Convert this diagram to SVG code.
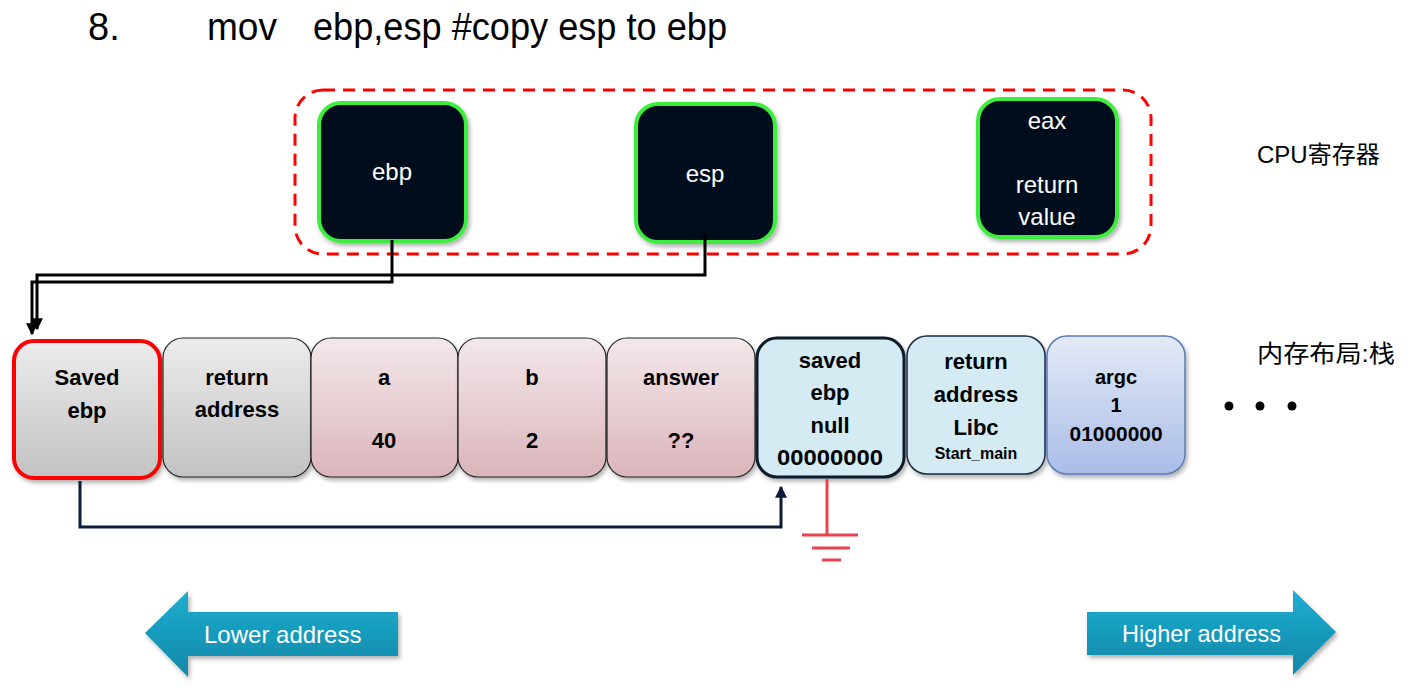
<svg xmlns="http://www.w3.org/2000/svg" width="1418" height="691" viewBox="0 0 1418 691">
<defs>
<linearGradient id="gGray" x1="0" y1="0" x2="0" y2="1"><stop offset="0" stop-color="#ececec"/><stop offset="1" stop-color="#c2c2c2"/></linearGradient>
<linearGradient id="gPink" x1="0" y1="0" x2="0" y2="1"><stop offset="0" stop-color="#f3e8ea"/><stop offset="1" stop-color="#dab5ba"/></linearGradient>
<linearGradient id="gBlue" x1="0" y1="0" x2="0" y2="1"><stop offset="0" stop-color="#e4eaf7"/><stop offset="1" stop-color="#a9bde7"/></linearGradient>
<linearGradient id="gTeal" x1="0" y1="0" x2="0" y2="1"><stop offset="0" stop-color="#1caed0"/><stop offset="1" stop-color="#1587a8"/></linearGradient>
<filter id="sh" x="-10%" y="-10%" width="130%" height="130%"><feDropShadow dx="2" dy="3" stdDeviation="2" flood-color="#000" flood-opacity="0.3"/></filter>
<marker id="arrBlack" viewBox="0 0 10 10" refX="9" refY="5" markerWidth="4" markerHeight="4" orient="auto" markerUnits="strokeWidth"><path d="M0,0 L10,5 L0,10 z" fill="#000"/></marker>
<marker id="arrNavy" viewBox="0 0 10 10" refX="9" refY="5" markerWidth="4" markerHeight="4" orient="auto" markerUnits="strokeWidth"><path d="M0,0 L10,5 L0,10 z" fill="#0d1b3a"/></marker>
</defs>
<style>
.reg{fill:#020f1a;stroke:#3ded3d;stroke-width:4}
.regt{font-family:"Liberation Sans",Arial,sans-serif;font-size:24px;fill:#fff;text-anchor:middle}
.st{font-family:"Liberation Sans",Arial,sans-serif;font-size:22px;font-weight:bold;fill:#000;text-anchor:middle}
.lbl{font-family:"Liberation Sans","Noto Sans CJK SC",sans-serif;font-size:24px;fill:#000}
.title{font-family:"Liberation Sans",Arial,sans-serif;font-size:38px;fill:#000}
.thin{stroke:#222;stroke-width:1.2}
.conn{fill:none;stroke:#000;stroke-width:3}
.arrt{font-family:"Liberation Sans",Arial,sans-serif;font-size:24px;fill:#fff}
</style>
<rect width="1418" height="691" fill="#fff"/>
<g id="title">
<text class="title" x="88" y="40">8.</text>
<text class="title" x="207" y="40" textLength="70" lengthAdjust="spacingAndGlyphs">mov</text>
<text class="title" x="313" y="40" textLength="414" lengthAdjust="spacingAndGlyphs">ebp,esp #copy esp to ebp</text>
</g>
<g id="cpu-group">
<rect x="295" y="90" width="856" height="164" rx="28" fill="none" stroke="#f00" stroke-width="3" stroke-dasharray="12 8"/>
</g>
<g id="reg-ebp"><rect class="reg" x="319" y="103" width="147" height="138" rx="22" filter="url(#sh)"/><text class="regt" x="392" y="180">ebp</text></g>
<g id="reg-esp"><rect class="reg" x="636" y="104" width="139" height="138" rx="22" filter="url(#sh)"/><text class="regt" x="705" y="182">esp</text></g>
<g id="reg-eax"><rect class="reg" x="978" y="99" width="139" height="138" rx="22" filter="url(#sh)"/><text class="regt" x="1047" y="129">eax</text><text class="regt" x="1047" y="193">return</text><text class="regt" x="1047" y="225">value</text></g>
<g id="labels">
<text class="lbl" x="1257" y="163">CPU寄存器</text>
<text class="lbl" x="1257" y="362" textLength="138" lengthAdjust="spacingAndGlyphs">内存布局:栈</text>
</g>
<g id="stack-saved-ebp"><rect x="14" y="341" width="146" height="137" rx="20" fill="url(#gGray)" stroke="#f00" stroke-width="4" filter="url(#sh)"/><text class="st" x="87" y="385">Saved</text><text class="st" x="87" y="418">ebp</text></g>
<g id="stack-return"><rect class="thin" x="163" y="338" width="148" height="139" rx="20" fill="url(#gGray)" filter="url(#sh)"/><text class="st" x="237" y="385">return</text><text class="st" x="237" y="417">address</text></g>
<g id="stack-a"><rect class="thin" x="311" y="338" width="147" height="139" rx="20" fill="url(#gPink)" filter="url(#sh)"/><text class="st" x="384" y="385">a</text><text class="st" x="384" y="448">40</text></g>
<g id="stack-b"><rect class="thin" x="458" y="338" width="148" height="139" rx="20" fill="url(#gPink)" filter="url(#sh)"/><text class="st" x="532" y="385">b</text><text class="st" x="532" y="448">2</text></g>
<g id="stack-answer"><rect class="thin" x="607" y="338" width="148" height="139" rx="20" fill="url(#gPink)" filter="url(#sh)"/><text class="st" x="681" y="385">answer</text><text class="st" x="681" y="448">??</text></g>
<g id="stack-saved-null"><rect x="757" y="338" width="147" height="139" rx="20" fill="#d4ebf3" stroke="#0d1b2a" stroke-width="3" filter="url(#sh)"/><text class="st" x="830" y="368">saved</text><text class="st" x="830" y="400">ebp</text><text class="st" x="830" y="433">null</text><text class="st" x="830" y="465" textLength="106" lengthAdjust="spacingAndGlyphs">00000000</text></g>
<g id="stack-ret-libc"><rect x="907" y="336" width="138" height="138" rx="20" fill="#d4ebf3" stroke="#1b2a44" stroke-width="1.5" filter="url(#sh)"/><text class="st" x="976" y="369">return</text><text class="st" x="976" y="402">address</text><text class="st" x="976" y="435">Libc</text><text class="st" x="976" y="459" style="font-size:16px">Start_main</text></g>
<g id="stack-argc"><rect x="1047" y="336" width="138" height="138" rx="20" fill="url(#gBlue)" stroke="#5a7bb8" stroke-width="1.5" filter="url(#sh)"/><text class="st" x="1116" y="384" style="font-size:20px">argc</text><text class="st" x="1116" y="412" style="font-size:20px">1</text><text class="st" x="1116" y="441" style="font-size:20px" textLength="93" lengthAdjust="spacingAndGlyphs">01000000</text></g>
<g id="dots"><circle cx="1229" cy="406" r="4.5" fill="#000"/><circle cx="1260" cy="406" r="4.5" fill="#000"/><circle cx="1292" cy="406" r="4.5" fill="#000"/></g>
<g id="ground" stroke="#e8434f" stroke-width="3">
<line x1="827" y1="479" x2="827" y2="535"/>
<line x1="802" y1="535" x2="858" y2="535"/>
<line x1="812" y1="548" x2="850" y2="548"/>
<line x1="822" y1="560" x2="841" y2="560"/>
</g>
<g id="connectors">
<path class="conn" d="M705,233 V275 H37 V329" marker-end="url(#arrBlack)"/>
<path class="conn" d="M392,240 V282 H32 V334" marker-end="url(#arrBlack)"/>
<path d="M80,481 V527 H781 V487" fill="none" stroke="#0d1b3a" stroke-width="3" marker-end="url(#arrNavy)"/>
</g>
<g id="arrow-lower">
<path d="M145,633 L188,591 L188,612 L398,612 L398,656 L188,656 L188,677 Z" fill="url(#gTeal)" filter="url(#sh)"/>
<text class="arrt" x="204" y="643">Lower address</text>
</g>
<g id="arrow-higher">
<path d="M1087,612 L1293,612 L1293,590 L1336,632 L1293,675 L1293,655 L1087,655 Z" fill="url(#gTeal)" filter="url(#sh)"/>
<text class="arrt" x="1122" y="642" textLength="159" lengthAdjust="spacingAndGlyphs">Higher address</text>
</g>
</svg>
